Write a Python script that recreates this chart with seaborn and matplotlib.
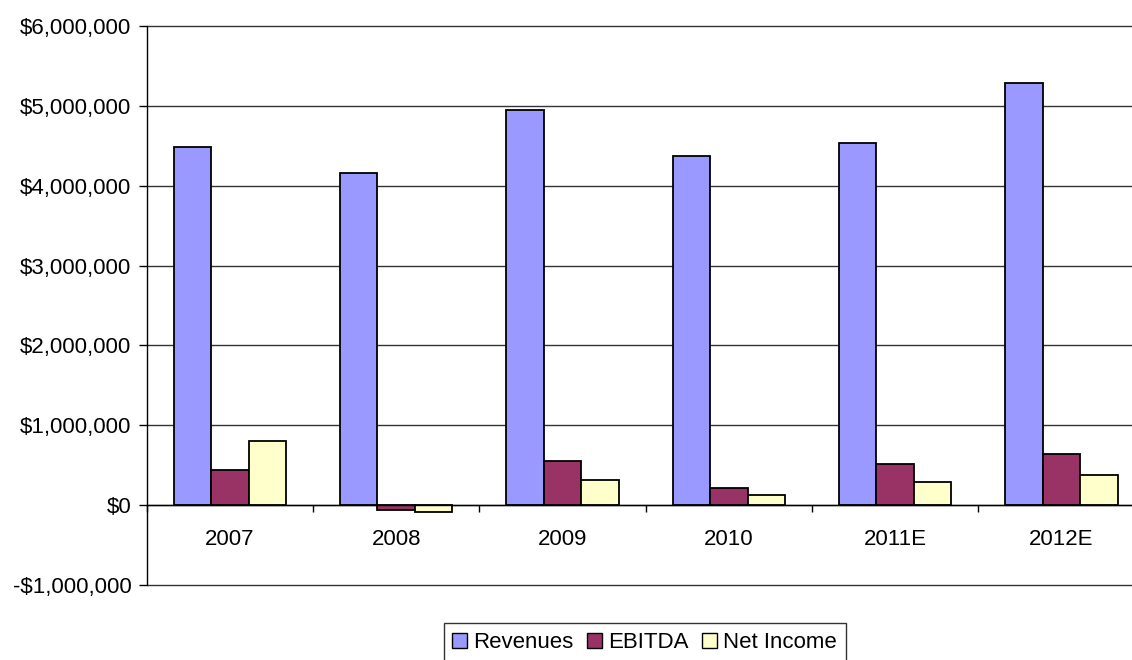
import matplotlib
matplotlib.use("Agg")
import matplotlib.pyplot as plt
import matplotlib.ticker as mticker
import seaborn as sns
import pandas as pd
import numpy as np

years = ["2007", "2008", "2009", "2010", "2011E", "2012E"]
revenues = [4483000, 4153000, 4943000, 4376000, 4530000, 5281000]
ebitda = [438000, -66000, 551000, 218000, 510000, 639000]
net_income = [798000, -90000, 309000, 130000, 284000, 372000]
series_names = ["Revenues", "EBITDA", "Net Income"]
colors = ["#9999FF", "#993366", "#FFFFCC"]

df = pd.DataFrame({
    "Year": years * 3,
    "Value": revenues + ebitda + net_income,
    "Series": [s for s in series_names for _ in years],
})

sns.set_style("white")
plt.rcParams["font.family"] = ["Liberation Sans", "DejaVu Sans"]
plt.rcParams["text.color"] = "black"
plt.rcParams["xtick.color"] = "black"
plt.rcParams["ytick.color"] = "black"

fig = plt.figure(figsize=(11.32, 6.6), dpi=100)
ax = fig.add_axes([146.7 / 1132, 75 / 660, 998 / 1132, 559 / 660])

sns.barplot(data=df, x="Year", y="Value", hue="Series", order=years,
            hue_order=series_names, palette=colors, width=0.675, gap=0,
            edgecolor="black", linewidth=1.3, saturation=1, ax=ax, zorder=3)

ax.set_ylim(-1000000, 6000000)
ax.set_xlim(-0.5, len(years) - 0.5)
ax.set_yticks(np.arange(-1000000, 6000001, 1000000))

def money(v, pos):
    if v < 0:
        return "-${:,.0f}".format(-v)
    return "${:,.0f}".format(v)

ax.yaxis.set_major_formatter(mticker.FuncFormatter(money))
ax.yaxis.grid(True, color="#333333", linewidth=1.0, zorder=0)
ax.set_axisbelow(True)
for gl in ax.get_ygridlines():
    gl.set_clip_on(False)

for s in ["top", "right"]:
    ax.spines[s].set_visible(False)
ax.spines["left"].set_color("black")
ax.spines["left"].set_linewidth(1.0)
ax.spines["bottom"].set_position(("data", 0))
ax.spines["bottom"].set_color("black")
ax.spines["bottom"].set_linewidth(1.0)
ax.spines["bottom"].set_zorder(4)

# category boundaries as major ticks, labels on minor ticks
ax.set_xticks(np.arange(-0.5, len(years) + 0.5, 1.0))
ax.set_xticklabels([])
ax.set_xticks(np.arange(len(years)), minor=True)
ax.set_xticklabels(years, minor=True)
ax.tick_params(axis="x", which="major", direction="out", length=5, width=1, color="black", bottom=True)
ax.tick_params(axis="x", which="minor", length=0, pad=17, labelsize=16, labelcolor="black")
ax.tick_params(axis="y", direction="out", length=6, width=1, color="black", left=True,
               labelsize=16, pad=5, labelcolor="black")

ax.set_xlabel("")
ax.set_ylabel("")

leg = ax.legend(loc="upper center", bbox_to_anchor=(644.7 / 1132, 37 / 660),
                bbox_transform=fig.transFigure, ncol=3, frameon=True, fancybox=False,
                fontsize=16, handlelength=0.65, handleheight=0.65, handletextpad=0.3,
                columnspacing=0.6, borderpad=0.4, borderaxespad=0)
leg.get_frame().set_edgecolor("black")
leg.get_frame().set_linewidth(1.0)
for t in leg.get_texts():
    t.set_color("black")
for h in leg.legend_handles:
    h.set_edgecolor("black")
    h.set_linewidth(1.0)

fig.savefig("out.png", dpi=100)
